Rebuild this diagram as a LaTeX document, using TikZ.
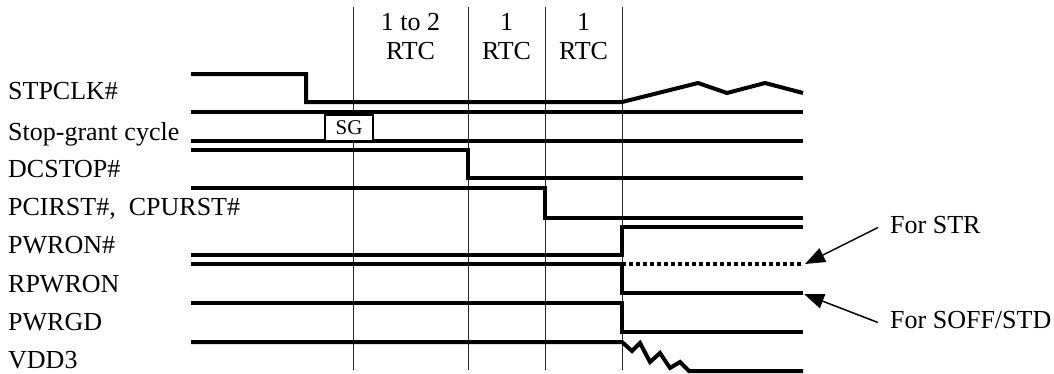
\documentclass[tikz,border=0pt]{standalone}
\usepackage{fontspec}
\setmainfont{Liberation Serif}
\usepackage{tikz}
\usetikzlibrary{arrows.meta}
\tikzset{
  sig/.style = {line width=4pt, line join=miter},
  gridline/.style = {line width=1pt, black!85},
  lbl/.style = {anchor=base west, inner sep=0pt, font=\fontsize{26}{29}\selectfont},
  hdr/.style = {align=center, inner sep=0pt, font=\fontsize{26}{29}\selectfont},
  sgbox/.style = {draw, line width=2.5pt, fill=white, minimum width=48pt, minimum height=27pt, inner sep=0pt, font=\fontsize{21}{23}\selectfont},
  ptr/.style = {-{Triangle[length=20pt, width=15pt]}, line width=1.5pt}
}

\begin{document}
\begin{tikzpicture}[x=1pt, y=-1pt]
        \useasboundingbox (0,0) rectangle (1054,373);
        \foreach \gx in {353,468,545,622}
            \draw [gridline] (\gx,7) -- (\gx,370);
        \node (rtca) at (410.5,36.7) [hdr] {1 to 2\\RTC};
        \node (rtcb) at (506.5,36.7) [hdr] {1\\RTC};
        \node (rtcc) at (583.5,36.7) [hdr] {1\\RTC};
        \node (stpclk) at (8,99) [lbl] {STPCLK\#};
        \node (sgc) at (8,140) [lbl] {Stop-grant cycle};
        \node (dcstop) at (8,177) [lbl] {DCSTOP\#};
        \node (pcirst) at (8,215) [lbl] {PCIRST\#,\ \ CPURST\#};
        \node (pwron) at (8,253) [lbl] {PWRON\#};
        \node (rpwron) at (8,292) [lbl] {RPWRON};
        \node (pwrgd) at (8,330) [lbl] {PWRGD};
        \node (vdd) at (8,368) [lbl] {VDD3};
        \node (str) at (890,233) [lbl] {For STR};
        \node (soff) at (890,328) [lbl] {For SOFF/STD};
        \draw [sig] (191,74) -- (306,74) -- (306,102) -- (622,102) -- (698,83) -- (727,93) -- (765,83) -- (803,93);
        \draw [sig] (191,112) -- (803,112);
        \draw [sig] (191,141) -- (803,141);
        \node (sg) at (349,128) [sgbox] {SG};
        \draw [sig] (191,150) -- (468,150) -- (468,178) -- (803,178);
        \draw [sig] (191,188) -- (545,188) -- (545,218) -- (803,218);
        \draw [sig] (191,255) -- (622,255) -- (622,227) -- (803,227);
        \draw [sig] (191,264) -- (622,264) -- (622,293) -- (803,293);
        \draw [sig, dash pattern=on 4pt off 3pt] (622,264) -- (803,264);
        \draw [sig] (191,303) -- (622,303) -- (622,332) -- (803,332);
        \draw [sig] (191,342) -- (622,342) -- (632,351) -- (640,343) -- (650,362) -- (660,353) -- (670,368) -- (680,362) -- (689,371) -- (803,371);
        \coordinate (strtip) at (805,264);
        \coordinate (sofftip) at (804,294);
        \draw [ptr] ([xshift=-12pt, yshift=-3pt]str.west) -- (strtip);
        \draw [ptr] ([xshift=-12pt, yshift=-3pt]soff.west) -- (sofftip);
    \end{tikzpicture}
\end{document}
